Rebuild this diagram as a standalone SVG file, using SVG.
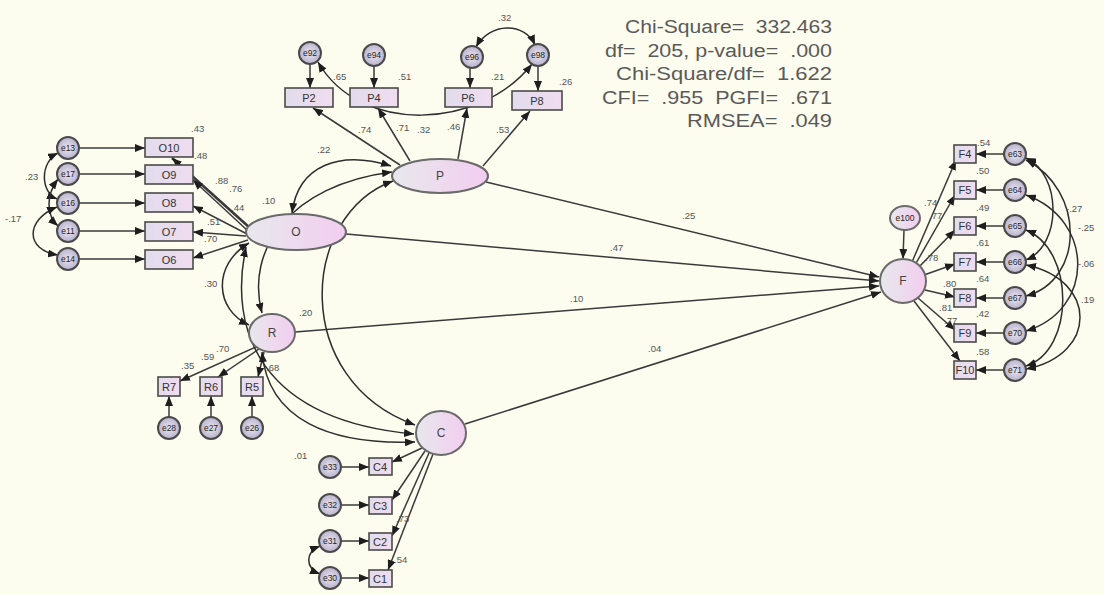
<svg xmlns="http://www.w3.org/2000/svg" width="1104" height="595" viewBox="0 0 1104 595">
<defs>
<style>
.ln{stroke:#3a3a3a;stroke-width:1.5;fill:none}
.cv{stroke:#2e2e2e;stroke-width:1.5;fill:none}
.lat{fill:url(#gl);stroke:#6a6a6a;stroke-width:2}
.box{fill:url(#gb);stroke:#4a4a4a;stroke-width:1.6}
.err{fill:url(#ge);stroke:#4a4a4a;stroke-width:2}
.t{font-family:"Liberation Sans",Arial,sans-serif;fill:#555;font-size:9.5px}
.bt{font-family:"Liberation Sans",Arial,sans-serif;fill:#333;font-size:11px;text-anchor:middle}
.et{font-family:"Liberation Sans",Arial,sans-serif;fill:#222;font-size:8.5px;text-anchor:middle}
.lt{font-family:"Liberation Sans",Arial,sans-serif;fill:#444;font-size:12px;text-anchor:middle}
.st{font-family:"Liberation Sans",Arial,sans-serif;fill:#5a5a5a;font-size:18px;text-anchor:end}
</style>
<linearGradient id="gl" x1="0" y1="0" x2="1" y2="0"><stop offset="0" stop-color="#e8e8ec"/><stop offset="1" stop-color="#f2cdf0"/></linearGradient>
<linearGradient id="gb" x1="0" y1="0" x2="1" y2="0"><stop offset="0" stop-color="#e2dcec"/><stop offset="1" stop-color="#f0dcf0"/></linearGradient>
<radialGradient id="ge"><stop offset="0" stop-color="#ebe6f2"/><stop offset="1" stop-color="#b8b2cc"/></radialGradient>
<marker id="ah" viewBox="0 0 10 8" refX="10" refY="4" markerWidth="10" markerHeight="8" markerUnits="userSpaceOnUse" orient="auto-start-reverse"><path d="M0,0 L10,4 L0,8 z" fill="#1e1e1e"/></marker>
</defs>
<rect width="1104" height="595" fill="#fcfcef"/>

<g id="connectors">
<g marker-end="url(#ah)">
<line class="ln" x1="310" y1="64" x2="310" y2="88"/>
<line class="ln" x1="374" y1="66" x2="374" y2="88"/>
<line class="ln" x1="470" y1="68" x2="470" y2="88"/>
<line class="ln" x1="538" y1="66" x2="538" y2="91"/>
<line class="ln" x1="79" y1="148" x2="145" y2="148"/>
<line class="ln" x1="79" y1="174" x2="145" y2="174"/>
<line class="ln" x1="79" y1="203" x2="145" y2="203"/>
<line class="ln" x1="79" y1="231" x2="145" y2="231"/>
<line class="ln" x1="79" y1="259" x2="145" y2="259"/>
<line class="ln" x1="169" y1="417" x2="169" y2="396"/>
<line class="ln" x1="211" y1="417" x2="211" y2="396"/>
<line class="ln" x1="252" y1="417" x2="252" y2="396"/>
<line class="ln" x1="341" y1="467" x2="369" y2="467"/>
<line class="ln" x1="341" y1="505" x2="369" y2="505"/>
<line class="ln" x1="341" y1="541" x2="369" y2="541"/>
<line class="ln" x1="341" y1="578" x2="369" y2="578"/>
<line class="ln" x1="1004" y1="154" x2="976" y2="154"/>
<line class="ln" x1="1004" y1="190" x2="976" y2="190"/>
<line class="ln" x1="1004" y1="226" x2="976" y2="226"/>
<line class="ln" x1="1004" y1="262" x2="976" y2="262"/>
<line class="ln" x1="1004" y1="298" x2="976" y2="298"/>
<line class="ln" x1="1004" y1="333" x2="976" y2="333"/>
<line class="ln" x1="1004" y1="370" x2="976" y2="370"/>
<line class="ln" x1="904" y1="230" x2="903" y2="259"/>
</g>
<g marker-end="url(#ah)">
<line class="ln" x1="400" y1="165" x2="313" y2="108"/>
<line class="ln" x1="410" y1="161" x2="378" y2="108"/>
<line class="ln" x1="458" y1="159" x2="467" y2="108"/>
<line class="ln" x1="483" y1="166" x2="530" y2="111"/>
<line class="ln" x1="250" y1="228" x2="172" y2="158" style="stroke-width:2.6"/>
<line class="ln" x1="248" y1="231" x2="193" y2="180"/>
<line class="ln" x1="247" y1="234" x2="193" y2="206"/>
<line class="ln" x1="246" y1="236" x2="193" y2="232"/>
<line class="ln" x1="248" y1="240" x2="193" y2="258"/>
<line class="ln" x1="256" y1="347" x2="180" y2="381"/>
<line class="ln" x1="259" y1="349" x2="218" y2="377"/>
<line class="ln" x1="264" y1="352" x2="258" y2="377"/>
<line class="ln" x1="422" y1="448" x2="392" y2="462"/>
<line class="ln" x1="425" y1="451" x2="392" y2="500"/>
<line class="ln" x1="429" y1="453" x2="392" y2="536"/>
<line class="ln" x1="433" y1="454" x2="388" y2="570"/>
<line class="ln" x1="912" y1="262" x2="956" y2="160"/>
<line class="ln" x1="915" y1="265" x2="955" y2="195"/>
<line class="ln" x1="918" y1="268" x2="955" y2="230"/>
<line class="ln" x1="924" y1="275" x2="955" y2="264"/>
<line class="ln" x1="925" y1="290" x2="955" y2="297"/>
<line class="ln" x1="918" y1="298" x2="955" y2="330"/>
<line class="ln" x1="914" y1="301" x2="960" y2="361"/>
</g>
<g marker-end="url(#ah)">
<line class="ln" x1="486" y1="182" x2="879" y2="277"/>
<line class="ln" x1="346" y1="234" x2="879" y2="281"/>
<line class="ln" x1="295" y1="332" x2="879" y2="286"/>
<line class="ln" x1="465" y1="424" x2="881" y2="292"/>
</g>
<g marker-start="url(#ah)" marker-end="url(#ah)">
<path class="cv" d="M292,213 C298,165 340,150 391,166"/>
<path class="cv" d="M262,313 C245,250 290,185 392,172"/>
<path class="cv" d="M393,181 C300,215 290,380 415,425"/>
<path class="cv" d="M249,243 C212,265 215,310 249,325"/>
<path class="cv" d="M246,247 C228,330 260,420 414,434"/>
<path class="cv" d="M262,352 C268,420 330,445 415,442"/>
<path class="cv" d="M476,47 C490,22 525,22 535,45"/>
<path class="cv" d="M318,62 C360,135 480,130 532,64"/>
<path class="cv" d="M58,153 C40,162 40,192 57,199"/>
<path class="cv" d="M58,179 C46,195 46,215 58,226"/>
<path class="cv" d="M57,207 C25,220 25,250 58,255"/>
<path class="cv" d="M320,546 C305,552 305,568 320,574"/>
<path class="cv" d="M1026,158 C1062,175 1062,245 1026,260"/>
<path class="cv" d="M1026,160 C1085,190 1085,280 1026,296"/>
<path class="cv" d="M1026,195 C1095,220 1095,310 1026,331"/>
<path class="cv" d="M1026,230 C1075,250 1075,350 1026,366"/>
<path class="cv" d="M1026,265 C1098,280 1098,355 1026,369"/>
</g>
</g>

<g id="labels">
<text class="t" x="498" y="21">.32</text>
<text class="t" x="333" y="80">.65</text>
<text class="t" x="398" y="80">.51</text>
<text class="t" x="491" y="80">.21</text>
<text class="t" x="559" y="85">.26</text>
<text class="t" x="358" y="133">.74</text>
<text class="t" x="396" y="131">.71</text>
<text class="t" x="417" y="133">.32</text>
<text class="t" x="447" y="130">.46</text>
<text class="t" x="496" y="133">.53</text>
<text class="t" x="317" y="153">.22</text>
<text class="t" x="262" y="204">.10</text>
<text class="t" x="299" y="316">.20</text>
<text class="t" x="204" y="287">.30</text>
<text class="t" x="294" y="459">.01</text>
<text class="t" x="191" y="132">.43</text>
<text class="t" x="194" y="159">.48</text>
<text class="t" x="215" y="184">.88</text>
<text class="t" x="229" y="192">.76</text>
<text class="t" x="231" y="211">.44</text>
<text class="t" x="207" y="225">.51</text>
<text class="t" x="204" y="242">.70</text>
<text class="t" x="181" y="369">.35</text>
<text class="t" x="201" y="360">.59</text>
<text class="t" x="216" y="352">.70</text>
<text class="t" x="266" y="371">.68</text>
<text class="t" x="396" y="522">.73</text>
<text class="t" x="394" y="563">.54</text>
<text class="t" x="25" y="180">.23</text>
<text class="t" x="5" y="222">-.17</text>
<text class="t" x="682" y="219">.25</text>
<text class="t" x="610" y="251">.47</text>
<text class="t" x="570" y="302">.10</text>
<text class="t" x="648" y="352">.04</text>
<text class="t" x="924" y="206">.74</text>
<text class="t" x="929" y="219">.77</text>
<text class="t" x="925" y="261">.78</text>
<text class="t" x="943" y="287">.80</text>
<text class="t" x="939" y="311">.81</text>
<text class="t" x="944" y="324">.77</text>
<text class="t" x="977" y="146">.54</text>
<text class="t" x="976" y="174">.50</text>
<text class="t" x="976" y="211">.49</text>
<text class="t" x="976" y="246">.61</text>
<text class="t" x="976" y="282">.64</text>
<text class="t" x="976" y="317">.42</text>
<text class="t" x="976" y="355">.58</text>
<text class="t" x="1066" y="212">-.27</text>
<text class="t" x="1078" y="231">-.25</text>
<text class="t" x="1078" y="267">-.06</text>
<text class="t" x="1081" y="303">.19</text>
</g>

<g id="stats">
<text class="st" x="832" y="33" textLength="207" lengthAdjust="spacingAndGlyphs" xml:space="preserve">Chi-Square=  332.463</text>
<text class="st" x="832" y="57" textLength="227" lengthAdjust="spacingAndGlyphs" xml:space="preserve">df=  205, p-value=  .000</text>
<text class="st" x="832" y="80" textLength="216" lengthAdjust="spacingAndGlyphs" xml:space="preserve">Chi-Square/df=  1.622</text>
<text class="st" x="832" y="104" textLength="230" lengthAdjust="spacingAndGlyphs" xml:space="preserve">CFI=  .955  PGFI=  .671</text>
<text class="st" x="832" y="127" textLength="145" lengthAdjust="spacingAndGlyphs" xml:space="preserve">RMSEA=  .049</text>
</g>

<g id="P"><ellipse class="lat" cx="440" cy="176" rx="48" ry="17"/><text class="lt" x="440" y="180">P</text></g>
<g id="O"><ellipse class="lat" cx="296" cy="232" rx="50" ry="18"/><text class="lt" x="296" y="236">O</text></g>
<g id="R"><ellipse class="lat" cx="272" cy="333" rx="23" ry="19"/><text class="lt" x="272" y="337">R</text></g>
<g id="C"><ellipse class="lat" cx="441" cy="433" rx="25" ry="22"/><text class="lt" x="441" y="437">C</text></g>
<g id="F"><ellipse class="lat" cx="903" cy="281" rx="23" ry="22"/><text class="lt" x="903" y="285">F</text></g>
<g id="e100"><ellipse class="lat" cx="905" cy="218" rx="15" ry="12"/><text class="et" x="905" y="221">e100</text></g>

<g id="P2"><rect class="box" x="285" y="88" width="48" height="19"/><text class="bt" x="309" y="102">P2</text></g>
<g id="P4"><rect class="box" x="350" y="88" width="48" height="19"/><text class="bt" x="374" y="102">P4</text></g>
<g id="P6"><rect class="box" x="445" y="88" width="47" height="19"/><text class="bt" x="468" y="102">P6</text></g>
<g id="P8"><rect class="box" x="512" y="91" width="50" height="19"/><text class="bt" x="537" y="105">P8</text></g>
<g id="e92"><circle class="err" cx="310" cy="53" r="11"/><text class="et" x="310" y="56">e92</text></g>
<g id="e94"><circle class="err" cx="374" cy="55" r="11"/><text class="et" x="374" y="58">e94</text></g>
<g id="e96"><circle class="err" cx="472" cy="57" r="11"/><text class="et" x="472" y="60">e96</text></g>
<g id="e98"><circle class="err" cx="538" cy="55" r="11"/><text class="et" x="538" y="58">e98</text></g>

<g id="O10"><rect class="box" x="145" y="138" width="48" height="19"/><text class="bt" x="169" y="152">O10</text></g>
<g id="O9"><rect class="box" x="145" y="165" width="48" height="19"/><text class="bt" x="169" y="179">O9</text></g>
<g id="O8"><rect class="box" x="145" y="193" width="48" height="19"/><text class="bt" x="169" y="207">O8</text></g>
<g id="O7"><rect class="box" x="145" y="222" width="48" height="19"/><text class="bt" x="169" y="236">O7</text></g>
<g id="O6"><rect class="box" x="145" y="250" width="48" height="19"/><text class="bt" x="169" y="264">O6</text></g>
<g id="e13"><circle class="err" cx="68" cy="148" r="11"/><text class="et" x="68" y="151">e13</text></g>
<g id="e17"><circle class="err" cx="68" cy="174" r="11"/><text class="et" x="68" y="177">e17</text></g>
<g id="e16"><circle class="err" cx="68" cy="203" r="11"/><text class="et" x="68" y="206">e16</text></g>
<g id="e11"><circle class="err" cx="68" cy="231" r="11"/><text class="et" x="68" y="234">e11</text></g>
<g id="e14"><circle class="err" cx="68" cy="259" r="11"/><text class="et" x="68" y="262">e14</text></g>

<g id="R7"><rect class="box" x="158" y="377" width="22" height="19"/><text class="bt" x="169" y="391">R7</text></g>
<g id="R6"><rect class="box" x="200" y="377" width="22" height="19"/><text class="bt" x="211" y="391">R6</text></g>
<g id="R5"><rect class="box" x="241" y="377" width="22" height="19"/><text class="bt" x="252" y="391">R5</text></g>
<g id="e28"><circle class="err" cx="169" cy="428" r="11"/><text class="et" x="169" y="431">e28</text></g>
<g id="e27"><circle class="err" cx="211" cy="428" r="11"/><text class="et" x="211" y="431">e27</text></g>
<g id="e26"><circle class="err" cx="252" cy="428" r="11"/><text class="et" x="252" y="431">e26</text></g>

<g id="C4"><rect class="box" x="369" y="458" width="23" height="17"/><text class="bt" x="380" y="471">C4</text></g>
<g id="C3"><rect class="box" x="369" y="497" width="23" height="17"/><text class="bt" x="380" y="510">C3</text></g>
<g id="C2"><rect class="box" x="369" y="533" width="23" height="17"/><text class="bt" x="380" y="546">C2</text></g>
<g id="C1"><rect class="box" x="369" y="570" width="23" height="17"/><text class="bt" x="380" y="583">C1</text></g>
<g id="e33"><circle class="err" cx="330" cy="467" r="11"/><text class="et" x="330" y="470">e33</text></g>
<g id="e32"><circle class="err" cx="330" cy="505" r="11"/><text class="et" x="330" y="508">e32</text></g>
<g id="e31"><circle class="err" cx="330" cy="541" r="11"/><text class="et" x="330" y="544">e31</text></g>
<g id="e30"><circle class="err" cx="330" cy="578" r="11"/><text class="et" x="330" y="581">e30</text></g>

<g id="F4"><rect class="box" x="954" y="145" width="22" height="18"/><text class="bt" x="965" y="158">F4</text></g>
<g id="F5"><rect class="box" x="954" y="181" width="22" height="18"/><text class="bt" x="965" y="194">F5</text></g>
<g id="F6"><rect class="box" x="954" y="217" width="22" height="18"/><text class="bt" x="965" y="230">F6</text></g>
<g id="F7"><rect class="box" x="954" y="253" width="22" height="18"/><text class="bt" x="965" y="266">F7</text></g>
<g id="F8"><rect class="box" x="954" y="289" width="22" height="18"/><text class="bt" x="965" y="302">F8</text></g>
<g id="F9"><rect class="box" x="954" y="324" width="22" height="18"/><text class="bt" x="965" y="337">F9</text></g>
<g id="F10"><rect class="box" x="954" y="361" width="22" height="18"/><text class="bt" x="965" y="374">F10</text></g>
<g id="e63"><circle class="err" cx="1015" cy="154" r="11"/><text class="et" x="1015" y="157">e63</text></g>
<g id="e64"><circle class="err" cx="1015" cy="190" r="11"/><text class="et" x="1015" y="193">e64</text></g>
<g id="e65"><circle class="err" cx="1015" cy="226" r="11"/><text class="et" x="1015" y="229">e65</text></g>
<g id="e66"><circle class="err" cx="1015" cy="262" r="11"/><text class="et" x="1015" y="265">e66</text></g>
<g id="e67"><circle class="err" cx="1015" cy="298" r="11"/><text class="et" x="1015" y="301">e67</text></g>
<g id="e70"><circle class="err" cx="1015" cy="333" r="11"/><text class="et" x="1015" y="336">e70</text></g>
<g id="e71"><circle class="err" cx="1015" cy="370" r="11"/><text class="et" x="1015" y="373">e71</text></g>
</svg>
